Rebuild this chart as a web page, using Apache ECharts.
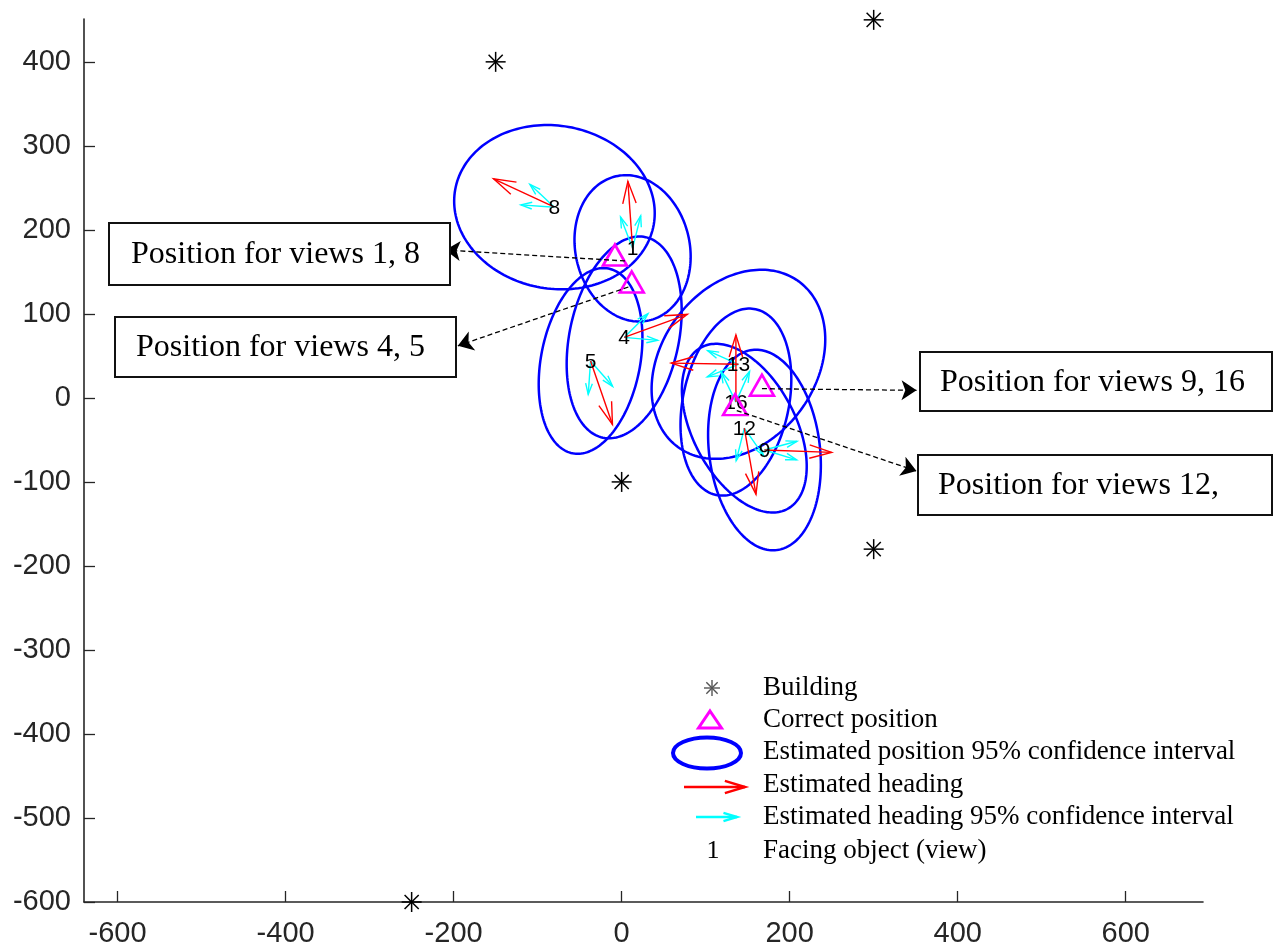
<!DOCTYPE html>
<html>
<head>
<meta charset="utf-8">
<script src="https://cdn.jsdelivr.net/npm/echarts@6/dist/echarts.min.js"></script>
<style>
  html, body { margin: 0; padding: 0; background: #fff; }
  #chart { width: 1277px; height: 949px; }
</style>
</head>
<body>
<div id="chart"></div>
<script>
// Landmark buildings (m)
const buildingX = [-150, 300, 0, 300, -250];
const buildingY = [400, 450, -100, -180, -600];

// Surveyed (correct) camera positions
const truthX = [-8, 12, 167, 135];
const truthY = [170, 138, 15, -8];

// Views and their estimated camera positions
const viewIds = [8, 1, 4, 5, 13, 16, 12, 9];
const estX = [-80, 13, 3, -37, 139, 136, 146, 170];
const estY = [227, 178, 72, 44, 40, -5, -36, -62];

// 95% confidence ellipse of each estimate: semi-axes and tilt (deg)
const ellMajor = [120, 88, 122, 112, 122, 113, 109, 120];
const ellMinor = [97, 68, 65, 59, 92, 63, 61, 66];
const ellTilt = [-10, -77, 78, 79, 54, 78, -62, -83];

// Estimated heading and its 95% bounds (deg, counter-clockwise from +x)
const heading = [155, 94, 20, -71, 179, 90, -80, -2];
const headingLo = [137, 76, -5, -94, 156, 66, -104, -17];
const headingHi = [176, 111, 45, -49, 202, 116, -55, 15];
const HEADING_LEN = 80;
const BOUND_LEN = 40;

// Callouts: from next to the correct position to the edge of its text box
const calloutText = ['Position for views 1, 8', 'Position for views 4, 5',
                     'Position for views 9, 16', 'Position for views 12,'];
const calloutFromX = [4, 8, 167, 137];
const calloutFromY = [163, 132, 11, -15];
const calloutToX = [-210, -195, 351, 351];
const calloutToY = [176, 62, 9, -87];

// Axis ticks
const xTicks = [-600, -400, -200, 0, 200, 400, 600];
const yTicks = [-600, -500, -400, -300, -200, -100, 0, 100, 200, 300, 400];

// Legend entries
const legendLabels = ['Building', 'Correct position',
  'Estimated position 95% confidence interval', 'Estimated heading',
  'Estimated heading 95% confidence interval', 'Facing object (view)'];

const SANS = '"Liberation Sans", Arial, Helvetica, sans-serif';
const SERIF = '"Liberation Serif", "Times New Roman", serif';
const AXIS_COLOR = '#262626';

// ---- derived series data ----
const ellipseData = viewIds.map((v, i) => [estX[i], estY[i], ellMajor[i], ellMinor[i], ellTilt[i]]);
const arrowData = [];
viewIds.forEach((v, i) => {
  arrowData.push([estX[i], estY[i], headingLo[i], BOUND_LEN, 1]);
  arrowData.push([estX[i], estY[i], headingHi[i], BOUND_LEN, 1]);
  arrowData.push([estX[i], estY[i], heading[i], HEADING_LEN, 0]);
});
const labelData = viewIds.map((v, i) => [estX[i], estY[i], v]);
const buildingData = buildingX.map((x, i) => [x, buildingY[i]]);
const truthData = truthX.map((x, i) => [x, truthY[i]]);
const calloutData = calloutFromX.map((x, i) => ({
  coords: [[x, calloutFromY[i]], [calloutToX[i], calloutToY[i]]]
}));

// quiver-style arrow: shaft plus open two-barb head
function arrowShape(p0, p1, color, lw) {
  const dx = p1[0] - p0[0], dy = p1[1] - p0[1];
  const bx = p1[0] - 0.33 * dx, by = p1[1] - 0.33 * dy;
  const qx = -dy * 0.1, qy = dx * 0.1;
  return {
    type: 'group',
    children: [
      { type: 'line', shape: { x1: p0[0], y1: p0[1], x2: p1[0], y2: p1[1] },
        style: { stroke: color, lineWidth: lw } },
      { type: 'polyline', shape: { points: [[bx + qx, by + qy], p1, [bx - qx, by - qy]] },
        style: { stroke: color, lineWidth: lw, fill: null } }
    ]
  };
}

function asteriskShape(cx, cy, r, color, lw) {
  const d = r * Math.SQRT1_2;
  const segs = [[-r, 0, r, 0], [0, -r, 0, r], [-d, -d, d, d], [-d, d, d, -d]];
  return {
    type: 'group',
    children: segs.map(s => ({
      type: 'line',
      shape: { x1: cx + s[0], y1: cy + s[1], x2: cx + s[2], y2: cy + s[3] },
      style: { stroke: color, lineWidth: lw }
    }))
  };
}

// ---- legend (graphic, pixel layout) ----
const LEG_TEXT_X = 763;
const legRowY = [688, 720, 752, 785, 817, 851];
const legendGraphics = [];
legendGraphics.push(asteriskShape(712, legRowY[0], 8, '#555', 1.4));
legendGraphics.push({ type: 'polygon',
  shape: { points: [[710, legRowY[1] - 9], [721.5, legRowY[1] + 8], [698.5, legRowY[1] + 8]] },
  style: { fill: null, stroke: '#ff00ff', lineWidth: 3 } });
legendGraphics.push({ type: 'ellipse', shape: { cx: 707, cy: legRowY[2] + 1, rx: 34, ry: 15.5 },
  style: { fill: null, stroke: '#0000ff', lineWidth: 4 } });
legendGraphics.push(arrowShape([684, legRowY[3] + 2], [745, legRowY[3] + 2], '#ff0000', 2.5));
legendGraphics.push(arrowShape([696, legRowY[4]], [737, legRowY[4]], '#00ffff', 2.5));
legendGraphics.push({ type: 'text', x: 713, y: legRowY[5],
  style: { text: '1', font: '26px ' + SERIF, fill: '#000',
           align: 'center', verticalAlign: 'middle', textAlign: 'center', textVerticalAlign: 'middle' } });
legendLabels.forEach((t, i) => {
  legendGraphics.push({ type: 'text', x: LEG_TEXT_X, y: legRowY[i],
    style: { text: t, font: '27px ' + SERIF, fill: '#000',
             align: 'left', verticalAlign: 'middle', textAlign: 'left', textVerticalAlign: 'middle' } });
});

// ---- callout boxes (graphic, pixel layout) ----
const boxRects = [[109, 223, 341, 62], [115, 317, 341, 60], [920, 352, 352, 59], [918, 455, 354, 60]];
const boxTextX = [131, 136, 940, 938];
const boxGraphics = [];
boxRects.forEach((r, i) => {
  boxGraphics.push({ type: 'rect', shape: { x: r[0], y: r[1], width: r[2], height: r[3] },
    style: { fill: '#fff', stroke: '#111', lineWidth: 2 }, z: 20 });
  boxGraphics.push({ type: 'text', x: boxTextX[i], y: r[1] + r[3] / 2 + 1, z: 21,
    style: { text: calloutText[i], font: '32px ' + SERIF, fill: '#000',
             align: 'left', verticalAlign: 'middle', textAlign: 'left', textVerticalAlign: 'middle' } });
});

const chart = echarts.init(document.getElementById('chart'));
chart.setOption({
  animation: false,
  backgroundColor: '#fff',
  grid: { left: 84, right: 74, top: 19, bottom: 47, containLabel: false },
  xAxis: {
    type: 'value', min: -640, max: 692,
    axisLine: { show: true, onZero: false, lineStyle: { color: AXIS_COLOR, width: 1.6 } },
    axisTick: { show: true, inside: true, length: 11, customValues: xTicks,
                lineStyle: { color: AXIS_COLOR, width: 1.3 } },
    axisLabel: { customValues: xTicks, color: AXIS_COLOR, fontSize: 29, fontFamily: SANS, margin: 17 },
    splitLine: { show: false }
  },
  yAxis: {
    type: 'value', min: -600, max: 451,
    axisLine: { show: true, onZero: false, lineStyle: { color: AXIS_COLOR, width: 1.6 } },
    axisTick: { show: true, inside: true, length: 11, customValues: yTicks,
                lineStyle: { color: AXIS_COLOR, width: 1.3 } },
    axisLabel: { customValues: yTicks, color: AXIS_COLOR, fontSize: 29, fontFamily: SANS, margin: 13 },
    splitLine: { show: false }
  },
  graphic: { elements: legendGraphics.concat(boxGraphics) },
  series: [
    {
      name: 'ellipses', type: 'custom', z: 2, clip: false,
      data: ellipseData,
      renderItem: function (params, api) {
        const cx = api.value(0), cy = api.value(1);
        const a = api.value(2), b = api.value(3);
        const th = api.value(4) * Math.PI / 180;
        const pts = [];
        for (let k = 0; k <= 180; k++) {
          const t = k / 180 * 2 * Math.PI;
          const x = cx + a * Math.cos(th) * Math.cos(t) - b * Math.sin(th) * Math.sin(t);
          const y = cy + a * Math.sin(th) * Math.cos(t) + b * Math.cos(th) * Math.sin(t);
          pts.push(api.coord([x, y]));
        }
        return { type: 'polygon', shape: { points: pts },
                 style: { fill: null, stroke: '#0000ff', lineWidth: 2.5 } };
      }
    },
    {
      name: 'headings', type: 'custom', z: 3, clip: false,
      data: arrowData,
      renderItem: function (params, api) {
        const x = api.value(0), y = api.value(1);
        const ang = api.value(2) * Math.PI / 180, len = api.value(3);
        const kind = api.value(4);
        const p0 = api.coord([x, y]);
        const p1 = api.coord([x + len * Math.cos(ang), y + len * Math.sin(ang)]);
        return arrowShape(p0, p1, kind === 0 ? '#ff0000' : '#00ffff', 1.4);
      }
    },
    {
      name: 'views', type: 'custom', z: 4, clip: false,
      data: labelData,
      renderItem: function (params, api) {
        const p = api.coord([api.value(0), api.value(1)]);
        return { type: 'text', x: p[0], y: p[1] + 1,
          style: { text: String(api.value(2)), font: '21px ' + SANS, fill: '#000',
                   align: 'center', verticalAlign: 'middle', textAlign: 'center', textVerticalAlign: 'middle' } };
      }
    },
    {
      name: 'Correct position', type: 'scatter', z: 5,
      data: truthData,
      symbol: 'triangle', symbolSize: [24, 21],
      itemStyle: { color: 'rgba(0,0,0,0)', borderColor: '#ff00ff', borderWidth: 2.6, opacity: 1 }
    },
    {
      name: 'Building', type: 'custom', z: 6, clip: false,
      data: buildingData,
      renderItem: function (params, api) {
        const p = api.coord([api.value(0), api.value(1)]);
        return asteriskShape(p[0], p[1], 10, '#000', 1.5);
      }
    },
    {
      name: 'callouts', type: 'lines', coordinateSystem: 'cartesian2d', z: 7,
      symbol: ['none', 'arrow'], symbolSize: [0, 15],
      lineStyle: { color: '#000', width: 1.3, type: [5, 3], opacity: 1, curveness: 0 },
      data: calloutData
    }
  ]
});
</script>
</body>
</html>
